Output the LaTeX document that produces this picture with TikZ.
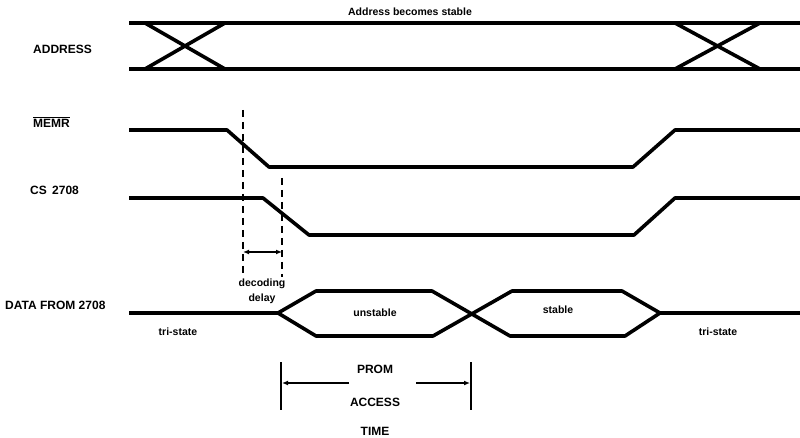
\documentclass[tikz,border=0pt]{standalone}
\usepackage{fontspec}
\setmainfont{Liberation Sans}
\usetikzlibrary{arrows.meta}
\tikzset{
  sig/.style={line width=3.6pt, line join=round},
  lbl/.style={font=\fontsize{12}{14}\selectfont\bfseries, anchor=west, inner sep=0pt},
  txt/.style={font=\fontsize{10.5}{15}\selectfont\bfseries, inner sep=0pt},
  guide/.style={line width=1.4pt, dash pattern=on 7pt off 5pt},
  bar/.style={line width=1.4pt},
  tip/.style={line width=1.4pt, -{Latex[length=6pt,width=5pt]}}
}

\begin{document}
\begin{tikzpicture}[x=1pt, y=-1pt]
   \useasboundingbox (0,0) rectangle (800,438);

   % signal names
   \node[lbl] (addr) at (33,49) {ADDRESS};
   \node[lbl] (memr) at (33,122) {$\overline{\mbox{MEMR}}$};
   \node[lbl] (cs) at (30,190) {CS\, 2708};
   \node[lbl] (data) at (5,305) {DATA FROM 2708};

   % address bus
   \draw[sig] (129,23) -- (800,23);
   \draw[sig] (129,69) -- (800,69);
   \draw[sig] (145,23) -- (225,69) (145,69) -- (225,23);
   \draw[sig] (675,23) -- (760,69) (675,69) -- (760,23);
   \node[txt] (stable-addr) at (410,12) {Address becomes stable};

   % MEMR and CS
   \draw[sig] (129,130) -- (227,130) -- (269,167) -- (633,167) -- (675,130) -- (800,130);
   \draw[sig] (129,198) -- (263,198) -- (309,235) -- (634,235) -- (675,198) -- (800,198);

   % data lines
   \draw[sig] (129,313) -- (278,313) -- (316,291) -- (432,291) -- (510,336)
              -- (625,336) -- (660,313) -- (800,313);
   \draw[sig] (278,313) -- (316,336) -- (433,336) -- (512,291) -- (622,291) -- (660,313);
   \node[txt] (unstable) at (375,313) {unstable};
   \node[txt] (stable) at (558,310) {stable};
   \node[txt] (tri-l) at (178,332) {tri-state};
   \node[txt] (tri-r) at (718,332) {tri-state};

   % decoding delay
   \coordinate (dec-l) at (243,252);
   \coordinate (dec-r) at (282,252);
   \draw[guide] (243,110) -- (243,277);
   \draw[guide] (282,178) -- (282,277);
   \path (dec-l) edge[bar, {Latex[length=6pt,width=5pt]}-{Latex[length=6pt,width=5pt]}] (dec-r);
   \node[txt, align=center] (decoding) at (262,291) {decoding\\delay};

   % access time
   \draw[bar] (281,362) -- (281,410);
   \draw[bar] (471,362) -- (471,410);
   \coordinate (acc-l) at (282,383);
   \coordinate (acc-r) at (470,383);
   \node[lbl, anchor=center] (prom) at (375,369) {PROM};
   \node[lbl, anchor=center] (access) at (375,402) {ACCESS};
   \node[lbl, anchor=center] (time) at (375,431) {TIME};
   \draw[tip] (349,383) -- (acc-l);
   \draw[tip] (416,383) -- (acc-r);
\end{tikzpicture}
\end{document}
